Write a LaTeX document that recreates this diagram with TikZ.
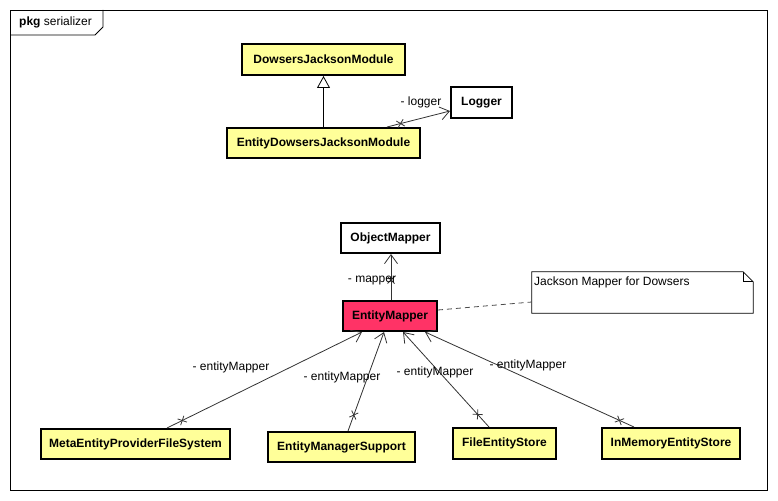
\documentclass[tikz,border=0pt]{standalone}
\usepackage{fontspec}
\setmainfont{Liberation Sans}
\usetikzlibrary{arrows.meta,decorations.markings,calc}
\definecolor{clsyellow}{RGB}{255,255,153}
\definecolor{clsred}{RGB}{255,51,102}
\definecolor{lnk}{RGB}{51,51,51}
\tikzset{
  cls/.style={draw=black, line width=2pt, fill=clsyellow, inner sep=0pt,
    font=\fontsize{12}{14}\selectfont\bfseries},
  plaincls/.style={cls, fill=white},
  redcls/.style={cls, fill=clsred},
  lbl/.style={font=\fontsize{12}{14}\selectfont, inner sep=0pt},
  assoc/.style={draw=lnk, line width=0.8pt, -{Straight Barb[length=9pt,width=13pt]}},
  xmark/.style={postaction={decorate, decoration={markings,
    mark=at position #1 with {\draw[-, lnk, line width=0.8pt] (-3.5pt,-3.5pt)--(3.5pt,3.5pt) (-3.5pt,3.5pt)--(3.5pt,-3.5pt);}}}},
  gener/.style={draw=black, line width=0.8pt, -{Triangle[open, length=12pt, width=13pt, fill=white]}},
  notelink/.style={draw=black!70, line width=0.8pt, dash pattern=on 5pt off 4pt},
}
\begin{document}
\begin{tikzpicture}[x=1pt, y=-1pt]
\useasboundingbox (0,0) rectangle (778,500);
% frame
\draw[line width=0.8pt] (10,10) rectangle (767,490);
\draw[line width=0.8pt] (10,35) -- (95,35) -- (103,27) -- (103,10);
\node[lbl, anchor=west] (pkg) at (19,22) {\textbf{pkg} serializer};
% classes
\node[cls, minimum width=163pt, minimum height=31pt] (djm) at (323.5,59.5) {DowsersJacksonModule};
\node[plaincls, minimum width=61pt, minimum height=31pt] (logger) at (481.5,102.5) {Logger};
\node[cls, minimum width=193pt, minimum height=30pt] (ejm) at (323.5,143) {EntityDowsersJacksonModule};
\node[plaincls, minimum width=99pt, minimum height=30pt] (om) at (390.5,238) {ObjectMapper};
\node[redcls, minimum width=94pt, minimum height=30pt] (em) at (390,316) {EntityMapper};
\node[cls, minimum width=189pt, minimum height=30pt] (meta) at (135.5,444) {MetaEntityProviderFileSystem};
\node[cls, minimum width=147pt, minimum height=30pt] (ems) at (341.5,447) {EntityManagerSupport};
\node[cls, minimum width=103pt, minimum height=31pt] (fes) at (504.5,443.5) {FileEntityStore};
\node[cls, minimum width=138pt, minimum height=31pt] (ims) at (671,443.5) {InMemoryEntityStore};
% note
\node[inner sep=0pt, minimum width=221pt, minimum height=41pt] (note) at (642.5,292.5) {};
\draw[line width=0.8pt, fill=white] (note.north west) -- ([xshift=-10pt]note.north east) -- ([yshift=-10pt]note.north east) -- (note.south east) -- (note.south west) -- cycle;
\draw[line width=0.8pt] ([xshift=-10pt]note.north east) -- ([xshift=-10pt,yshift=-10pt]note.north east) -- ([yshift=-10pt]note.north east);
\node[lbl, anchor=west] (notetext) at (534,282) {Jackson Mapper for Dowsers};
% connectors
\draw[gener] (ejm.north) -- (djm.south);
\draw[assoc, xmark=14pt] ([xshift=63.5pt]ejm.north) -- ([yshift=-8.5pt]logger.west);
\node[lbl] (lglbl) at (421,102) {- logger};
\draw[assoc, xmark=20pt] ([xshift=1pt]em.north) -- ([xshift=0.5pt]om.south);
\node[lbl] (mplbl) at (372,281) {- mapper};
\draw[assoc, xmark=17pt] ([xshift=31.5pt]meta.north) -- ([xshift=-28pt]em.south);
\node[lbl] (l1) at (231,367) {- entityMapper};
\draw[assoc, xmark=17pt] ([xshift=6.5pt]ems.north) -- ([xshift=-6pt]em.south);
\node[lbl] (l2) at (342,377) {- entityMapper};
\draw[assoc, xmark=17pt] ([xshift=-15.5pt]fes.north) -- ([xshift=13pt]em.south);
\node[lbl] (l3) at (435,372) {- entityMapper};
\draw[assoc, xmark=16pt] ([xshift=-37pt]ims.north) -- ([xshift=35pt]em.south);
\node[lbl] (l4) at (528,365) {- entityMapper};
\draw[notelink] ([yshift=6pt]em.east) -- ([yshift=-9.5pt]note.west);
\end{tikzpicture}
\end{document}
